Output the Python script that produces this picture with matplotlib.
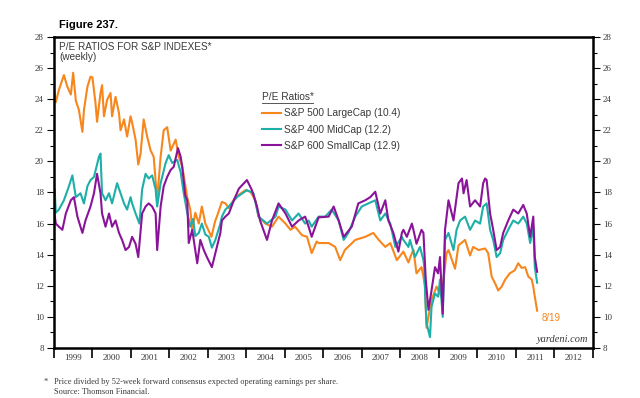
import matplotlib
matplotlib.use('Agg')
import matplotlib.pyplot as plt
from matplotlib.lines import Line2D
from matplotlib.ticker import MultipleLocator, FixedLocator, NullFormatter

plt.rcParams['font.family'] = 'Liberation Serif'

# ---- data (decimal years) ----
large_years = [1999.00, 1999.03, 1999.06, 1999.14, 1999.27, 1999.36, 1999.45, 1999.51, 1999.58, 1999.66,
               1999.75, 1999.79, 1999.88, 1999.96, 2000.01, 2000.09, 2000.13, 2000.22, 2000.26, 2000.31,
               2000.39, 2000.48, 2000.52, 2000.61, 2000.70, 2000.74, 2000.83, 2000.91, 2001.00, 2001.04,
               2001.13, 2001.20, 2001.26, 2001.34, 2001.43, 2001.52, 2001.60, 2001.69, 2001.78, 2001.86,
               2001.95, 2002.04, 2002.17, 2002.25, 2002.34, 2002.47, 2002.55, 2002.60, 2002.68, 2002.77,
               2002.85, 2002.94, 2003.10, 2003.16, 2003.20, 2003.24, 2003.37, 2003.46, 2003.55, 2003.72,
               2003.98, 2004.11, 2004.24, 2004.32, 2004.50, 2004.67, 2004.84, 2005.02, 2005.15, 2005.27,
               2005.45, 2005.58, 2005.70, 2005.83, 2005.88, 2006.14, 2006.31, 2006.44, 2006.56, 2006.83,
               2007.09, 2007.30, 2007.44, 2007.61, 2007.74, 2007.91, 2008.08, 2008.21, 2008.30, 2008.34,
               2008.42, 2008.55, 2008.60, 2008.64, 2008.68, 2008.81, 2008.94, 2009.07, 2009.20, 2009.25,
               2009.42, 2009.51, 2009.68, 2009.81, 2009.89, 2010.03, 2010.20, 2010.28, 2010.37, 2010.46,
               2010.54, 2010.63, 2010.72, 2010.84, 2010.97, 2011.06, 2011.15, 2011.24, 2011.32, 2011.41,
               2011.45, 2011.49, 2011.55]
large_pe = [24.8, 24.4, 23.8, 24.6, 25.55, 24.8, 24.3, 25.7, 23.9, 23.3,
            21.9, 23.3, 24.8, 25.45, 25.4, 23.75, 22.55, 24.4, 24.9, 22.9,
            23.95, 24.4, 22.9, 24.15, 23.1, 22.0, 22.7, 21.6, 22.9, 22.5,
            21.4, 19.8, 20.5, 22.7, 21.6, 20.7, 20.3, 17.5, 20.3, 22.0,
            22.2, 20.7, 21.4, 20.3, 19.7, 17.7, 16.9, 15.6, 16.7, 16.0,
            17.1, 16.0, 15.15, 15.8, 16.2, 16.45, 17.4, 17.3, 17.0, 17.7,
            18.15, 18.05, 17.5, 16.45, 16.0, 15.8, 16.45, 16.0, 15.6, 15.8,
            15.25, 15.15, 14.1, 14.85, 14.75, 14.75, 14.5, 13.65, 14.3, 14.95,
            15.15, 15.4, 14.95, 14.5, 14.75, 13.65, 14.2, 13.5, 14.1, 14.3,
            12.8, 13.2, 12.6, 11.95, 9.3, 11.1, 11.95, 11.3, 14.1, 14.3,
            13.1, 14.6, 14.95, 13.95, 14.5, 14.3, 14.4, 14.1, 12.6, 12.15,
            11.7, 11.95, 12.4, 12.8, 13.0, 13.45, 13.15, 13.2, 12.6, 12.4,
            11.95, 11.3, 10.4]

mid_years = [1999.00, 1999.03, 1999.06, 1999.14, 1999.27, 1999.40, 1999.49, 1999.58, 1999.70, 1999.79,
             1999.88, 1999.96, 2000.05, 2000.18, 2000.22, 2000.26, 2000.35, 2000.44, 2000.52, 2000.65,
             2000.74, 2000.83, 2000.91, 2001.00, 2001.04, 2001.13, 2001.23, 2001.30, 2001.39, 2001.47,
             2001.56, 2001.65, 2001.69, 2001.78, 2001.91, 2001.99, 2002.08, 2002.21, 2002.30, 2002.38,
             2002.47, 2002.55, 2002.62, 2002.68, 2002.77, 2002.85, 2002.94, 2003.03, 2003.11, 2003.20,
             2003.33, 2003.37, 2003.46, 2003.55, 2003.76, 2004.02, 2004.19, 2004.32, 2004.54, 2004.76,
             2004.84, 2005.02, 2005.19, 2005.36, 2005.53, 2005.62, 2005.70, 2005.88, 2006.05, 2006.22,
             2006.40, 2006.53, 2006.65, 2006.83, 2007.00, 2007.17, 2007.35, 2007.48, 2007.61, 2007.74,
             2007.87, 2008.04, 2008.08, 2008.21, 2008.25, 2008.38, 2008.51, 2008.60, 2008.62, 2008.65,
             2008.68, 2008.77, 2008.81, 2008.90, 2008.98, 2009.03, 2009.10, 2009.16, 2009.25, 2009.38,
             2009.46, 2009.55, 2009.68, 2009.81, 2009.94, 2010.07, 2010.15, 2010.24, 2010.33, 2010.41,
             2010.50, 2010.59, 2010.67, 2010.80, 2010.93, 2011.06, 2011.19, 2011.28, 2011.37, 2011.45,
             2011.49, 2011.55]
mid_pe = [17.8, 18.2, 16.7, 16.9, 17.5, 18.4, 19.1, 17.7, 17.95, 17.3,
          18.4, 18.8, 19.0, 20.3, 20.5, 17.95, 17.5, 17.95, 17.3, 18.6,
          17.95, 17.3, 16.9, 17.7, 17.3, 16.65, 16.0, 18.2, 19.2, 18.9,
          19.1, 18.2, 17.1, 18.6, 19.9, 20.4, 19.9, 20.1, 19.3, 17.95,
          16.7, 15.8, 16.3, 15.2, 15.4, 16.0, 15.3, 15.15, 14.45, 14.95,
          16.0, 16.45, 16.9, 17.1, 17.7, 18.15, 17.95, 16.45, 16.0, 16.45,
          17.1, 16.9, 16.2, 16.65, 16.0, 16.2, 15.8, 16.45, 16.45, 16.9,
          16.2, 14.95, 15.4, 16.45, 17.1, 17.3, 17.5, 16.2, 16.65, 16.0,
          14.5, 15.15, 14.95, 14.5, 14.95, 13.85, 14.5, 13.65, 13.2, 11.1,
          9.6, 8.7, 10.65, 11.5, 11.3, 12.4, 10.0, 14.95, 15.4, 14.3,
          15.6, 16.2, 16.45, 15.6, 16.2, 16.0, 17.1, 17.3, 15.6, 14.95,
          13.85, 14.1, 14.95, 15.6, 16.2, 16.0, 16.45, 16.0, 14.75, 15.8,
          13.2, 12.2]

small_years = [1999.00, 1999.06, 1999.14, 1999.23, 1999.32, 1999.45, 1999.53, 1999.62, 1999.75, 1999.83,
               1999.96, 2000.05, 2000.13, 2000.22, 2000.26, 2000.35, 2000.44, 2000.52, 2000.61, 2000.70,
               2000.78, 2000.87, 2000.96, 2001.04, 2001.13, 2001.20, 2001.30, 2001.39, 2001.47, 2001.56,
               2001.65, 2001.69, 2001.78, 2001.86, 2001.95, 2002.04, 2002.12, 2002.23, 2002.30, 2002.34,
               2002.42, 2002.47, 2002.51, 2002.60, 2002.73, 2002.81, 2002.90, 2002.98, 2003.11, 2003.22,
               2003.33, 2003.37, 2003.46, 2003.55, 2003.68, 2003.81, 2004.02, 2004.15, 2004.28, 2004.36,
               2004.54, 2004.67, 2004.84, 2005.02, 2005.19, 2005.36, 2005.53, 2005.62, 2005.70, 2005.88,
               2006.14, 2006.27, 2006.40, 2006.53, 2006.74, 2006.91, 2007.09, 2007.22, 2007.35, 2007.48,
               2007.61, 2007.69, 2007.82, 2007.95, 2008.04, 2008.08, 2008.17, 2008.30, 2008.34, 2008.42,
               2008.55, 2008.60, 2008.66, 2008.73, 2008.81, 2008.90, 2008.98, 2009.03, 2009.10, 2009.16,
               2009.25, 2009.29, 2009.38, 2009.51, 2009.60, 2009.64, 2009.72, 2009.81, 2009.94, 2010.07,
               2010.15, 2010.20, 2010.24, 2010.33, 2010.41, 2010.50, 2010.59, 2010.67, 2010.80, 2010.93,
               2011.06, 2011.19, 2011.28, 2011.37, 2011.45, 2011.49, 2011.55]
small_pe = [17.1, 16.0, 15.8, 15.6, 16.65, 17.5, 17.7, 16.45, 15.4, 16.2,
            17.1, 17.95, 19.2, 17.95, 16.65, 15.8, 16.65, 15.8, 16.2, 15.4,
            14.95, 14.3, 14.5, 15.15, 14.7, 13.85, 16.65, 17.1, 17.3, 17.1,
            16.65, 14.3, 17.1, 18.4, 19.0, 19.45, 19.65, 20.85, 20.3, 19.65,
            17.8, 17.5, 14.75, 15.6, 13.45, 14.95, 14.3, 13.85, 13.2, 14.3,
            15.4, 16.2, 16.45, 16.65, 17.5, 18.25, 18.8, 18.15, 17.1, 16.2,
            14.95, 16.2, 17.3, 16.65, 15.8, 16.2, 16.45, 15.8, 15.15, 16.4,
            16.45, 17.1, 16.2, 15.15, 15.8, 17.3, 17.5, 17.7, 18.05, 16.65,
            17.5, 16.2, 15.4, 14.2, 15.4, 15.6, 15.15, 16.0, 15.6, 14.7,
            15.6, 15.4, 12.4, 10.45, 11.7, 13.2, 12.8, 13.85, 10.2, 15.6,
            17.5, 17.1, 16.2, 18.6, 18.9, 17.95, 18.8, 17.1, 17.5, 17.1,
            18.6, 18.9, 18.8, 16.65, 15.6, 14.3, 14.5, 15.4, 16.2, 16.9,
            16.65, 17.2, 16.65, 15.15, 16.45, 13.85, 12.9]

series_labels = ['S&P 500 LargeCap (10.4)', 'S&P 400 MidCap (12.2)', 'S&P 600 SmallCap (12.9)']
series_colors = ['#F7861C', '#1DAFA8', '#8A1499']
year_labels = [str(y) for y in range(1999, 2013)]
last_date = '8/19'

SANS = 'Liberation Sans'
TXT = '#3a3a3a'

fig = plt.figure(figsize=(6.4, 3.98), dpi=100)
ax = fig.add_axes([53.5 / 640, 1 - 348 / 398, (593 - 53.5) / 640, (348 - 37) / 398])

l1, = ax.plot(large_years, large_pe, color=series_colors[0], lw=1.5)
l2, = ax.plot(mid_years, mid_pe, color=series_colors[1], lw=1.5)
l3, = ax.plot(small_years, small_pe, color=series_colors[2], lw=1.5)

ax.set_xlim(1999, 2013)
ax.set_ylim(8, 28)

# y axis: labels both sides, minor ticks on odd values
ax.yaxis.set_major_locator(MultipleLocator(2))
ax.yaxis.set_minor_locator(MultipleLocator(1))
ax.tick_params(axis='y', which='both', direction='out', left=True, right=True,
               labelleft=True, labelright=True, labelsize=6.5, labelcolor=TXT, width=0.8)
ax.tick_params(axis='y', which='major', length=5, pad=2)
ax.tick_params(axis='y', which='minor', length=3)

# x axis: ticks at year boundaries, labels centred in each year
ax.xaxis.set_major_locator(FixedLocator(range(1999, 2014)))
ax.xaxis.set_major_formatter(NullFormatter())
ax.set_xticks([y + 0.5 for y in range(1999, 2013)], minor=True)
ax.set_xticklabels(year_labels, minor=True)
ax.tick_params(axis='x', which='major', direction='out', length=7, width=1.2)
ax.tick_params(axis='x', which='minor', length=0, pad=4, labelsize=6.5, labelcolor=TXT)

for s in ax.spines.values():
    s.set_linewidth(1.8)

# titles
fig.text(59 / 640, 1 - 28 / 398, 'Figure 237.', family=SANS, fontsize=8, fontweight='bold',
         va='baseline', ha='left', color='black')
ax.text(0.01, 0.985, 'P/E RATIOS FOR S&P INDEXES*\n(weekly)', transform=ax.transAxes,
        family=SANS, fontsize=7.2, color=TXT, va='top', ha='left', linespacing=1.0)

# legend
leg = ax.legend([l1, l2, l3], series_labels, loc='upper left',
                bbox_to_anchor=(261.5 / 640, 1 - 92 / 398), bbox_transform=fig.transFigure,
                frameon=False, borderpad=0, borderaxespad=0, handlelength=1.95,
                handletextpad=0.25, labelspacing=0.62,
                prop={'family': SANS, 'size': 7.3},
                title='P/E Ratios*', title_fontproperties={'family': SANS, 'size': 7.3})
leg._legend_box.align = 'left'
for t in leg.get_texts():
    t.set_color(TXT)
leg.get_title().set_color(TXT)

# end label and source tag
ax.annotate(last_date, xy=(large_years[-1], large_pe[-1]), xytext=(3, -5),
            textcoords='offset points', family=SANS, fontsize=7, color=series_colors[0],
            va='center', ha='left')
ax.text(0.991, 0.012, 'yardeni.com', transform=ax.transAxes, style='italic',
        fontsize=7.5, color=TXT, ha='right', va='bottom')

# footnote
fig.text(44 / 640, 1 - 384 / 398, '*', fontsize=6, color=TXT, va='baseline')
fig.text(54 / 640, 1 - 384 / 398,
         'Price divided by 52-week forward consensus expected operating earnings per share.',
         fontsize=6, color=TXT, va='baseline')
fig.text(54 / 640, 1 - 394.5 / 398, 'Source: Thomson Financial.', fontsize=6, color=TXT, va='baseline')

# underline for legend title
fig.canvas.draw()
bb = leg.get_title().get_window_extent()
inv = fig.transFigure.inverted()
(x0, y0), (x1, _) = inv.transform([(bb.x0, bb.y0 - 1), (bb.x1, bb.y0 - 1)])
fig.add_artist(Line2D([x0, x1], [y0, y0], transform=fig.transFigure, color=TXT, lw=0.6))

fig.savefig('out.png', dpi=100)
